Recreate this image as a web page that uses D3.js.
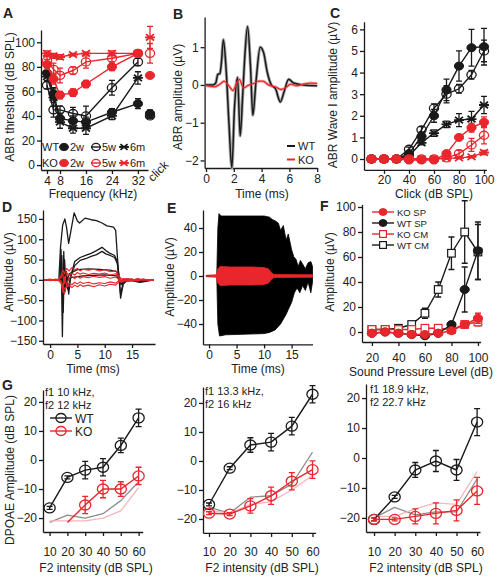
<!DOCTYPE html>
<meta charset="utf-8">
<style>

body {
  margin: 0;
  background-color: #fff;
}

svg text {
  font-family: "Liberation Sans", Arial, sans-serif;
  font-size: 12px;
  fill: #222;
}

.letter {
  font-weight: bold;
  font-size: 14px;
}

</style>
<body>

<div id="chart"></div>

<script src="https://cdn.jsdelivr.net/npm/d3@7"></script>
<script>

// ---- A: ABR thresholds (dB SPL) ----
var freqA = [4, 6, 8, 12, 16, 24, 32];
var wt2wA = [75, 58, 38, 36, 35, 43, 50];
var wt5wA = [65, 45, 45, 42, 40, 63, 84];
var wt6mA = [72, 55, 35, 30, 30, 40, 71];
var ko2wA = [82, 70, 57, 59, 66, 80, 91];
var ko5wA = [85, 78, 73, 77, 84, 87, 91];
var ko6mA = [91, 89, 88, 90, 91, 91, 91];
var wt2wErrA = [3, 5, 4, 4, 4, 3, 4];
var wt5wErrA = [3, 6, 3, 5, 8, 6, 3];
var wt6mErrA = [3, 7, 5, 4, 5, 3, 5];
var ko2wErrA = [4, 4, 3, 3, 3, 3, 2];
var ko5wErrA = [4, 5, 6, 3, 5, 3, 2];
var ko6mErrA = [2, 2, 2, 1, 1, 2, 1];
var clickWtA = [42, 40, 41];
var clickKoA = [73, 91, 104];
var clickWtErrA = [3, 2, 2];
var clickKoErrA = [2, 8, 9];

// ---- B: ABR waveform (ms, uV) ----
var timeWtB = [0, 0.5, 0.7, 0.85, 1.0, 1.1, 1.25, 1.45, 1.65, 1.86, 2.05, 2.27, 2.46, 2.65, 2.8, 2.99, 3.2, 3.37, 3.6, 3.9, 4.15, 4.4, 4.7, 5.0, 5.35, 5.6, 5.95, 6.3, 7, 8];
var ampWtB  = [0, 0, 0.05, 0.28, 0.3, 0.55, 1.2, 0.4, -1.0, -2.2, -0.6, 0.2, -1.35, -0.2, 0.8, 1.55, 0.5, -0.8, 0.1, 1.0, 0.85, 0.35, 0.0, -0.1, -0.45, -0.2, 0.15, 0.05, 0, -0.02];
var timeKoB = [0, 0.6, 1.0, 1.3, 1.6, 1.95, 2.2, 2.4, 2.7, 3.0, 3.5, 3.8, 4.1, 4.5, 5.0, 5.4, 5.7, 6.1, 6.5, 7, 7.5, 8];
var ampKoB  = [-0.02, -0.05, 0.02, 0.1, 0.0, -0.15, 0.05, 0.15, -0.08, -0.02, 0.05, 0.1, 0.1, 0.0, -0.05, -0.12, -0.08, 0.02, -0.02, 0.02, 0.05, 0.04];

// ---- C: ABR wave I amplitude (uV) ----
var levelC = [10, 20, 30, 40, 50, 60, 70, 80, 90, 100];
var wt2wC = [0, 0, 0, 0.25, 1.05, 2.0, 3.2, 4.3, 5.15, 5.2];
var wt5wC = [0, 0, 0, 0.45, 1.35, 2.35, 3.0, 3.25, 3.9, 5.0];
var wt6mC = [0, 0, 0, 0.15, 0.75, 1.2, 1.6, 1.8, 1.85, 2.5];
var ko2wC = [0, 0, 0, -0.05, -0.05, -0.05, 0.25, 1.0, 1.45, 1.7];
var ko5wC = [0, 0, 0, 0, 0, 0, 0.05, 0.25, 0.65, 1.1];
var ko6mC = [0, 0, 0, 0, 0, 0, 0.03, 0.05, 0.1, 0.3];
var wt2wErrC = [0, 0, 0, 0.1, 0.2, 0.3, 0.5, 0.7, 0.85, 0.85];
var wt5wErrC = [0, 0, 0, 0.1, 0.15, 0.2, 0.4, 0.2, 0.2, 0.5];
var wt6mErrC = [0, 0, 0, 0.05, 0.1, 0.15, 0.15, 0.3, 0.35, 0.4];
var ko2wErrC = [0, 0, 0, 0, 0, 0, 0.05, 0.1, 0.2, 0.25];
var ko5wErrC = [0, 0, 0, 0, 0, 0, 0.05, 0.15, 0.3, 0.4];
var ko6mErrC = [0, 0, 0, 0, 0, 0, 0, 0.03, 0.05, 0.1];

// ---- D: summating potential traces (ms, uV) ----
var tracesWtD = [
  {t: [-1, 1.6, 1.9, 2.3, 2.7, 3.0, 3.4, 3.8, 4.4, 5.0, 5.4, 6.4, 7.5, 8.5, 9.5, 10.4, 11.6, 12.0, 12.3, 12.6, 13.0, 13.5, 14.5, 19],
   v: [0, 0, 80, 135, 150, 130, 90, 120, 165, 145, 140, 152, 148, 146, 140, 133, 130, 122, 60, 5, -5, 2, 0, 0]},
  {t: [-1, 1.8, 2.0, 2.25, 2.5, 2.7, 3.0, 3.4, 3.8, 4.5, 5.5, 6.5, 7.5, 8.5, 9.5, 10.2, 11, 11.8, 12.3, 12.6, 12.9, 13.4, 14, 19],
   v: [0, 0, 75, -140, 70, -30, 20, -35, 10, 45, 55, 60, 65, 72, 80, 72, 65, 60, 45, 10, -45, -10, -3, 0]},
  {t: [-1, 1.9, 2.15, 2.4, 2.65, 2.9, 3.3, 3.7, 4.5, 5.5, 6.5, 7.5, 8.5, 9.5, 10.2, 11, 11.8, 12.3, 12.6, 12.9, 13.4, 14, 19],
   v: [0, 0, 60, -80, 50, -10, -25, 5, 35, 48, 52, 58, 62, 70, 64, 60, 55, 40, 5, -35, -5, 0, 0]},
  {t: [-1, 2, 2.3, 2.6, 3, 3.5, 5, 7, 9, 11, 12.2, 12.6, 13, 13.5, 15, 16, 19],
   v: [0, 0, 25, -20, -5, 15, 25, 27, 26, 24, 20, 5, -12, -3, 2, -5, 0]},
  {t: [-1, 2, 2.4, 2.8, 3.5, 6, 10, 12.2, 12.8, 14, 15.5, 16.5, 19],
   v: [0, 0, 10, -10, 5, 10, 12, 10, -5, 2, -3, -6, 0]}
];
var tracesKoD = [
  {t: [-1, 0, 1, 1.5, 2.0, 2.3, 2.6, 3.0, 3.5, 4.0, 4.5, 5.0, 5.5, 6.0, 7, 8, 9, 10, 11, 12, 12.5, 13, 14, 15, 16, 17, 18, 19],
   v: [0, 2, -2, 0, 10, 25, 15, 28, 22, 30, 24, 28, 22, 26, 24, 26, 22, 25, 20, 22, 12, 3, 2, -1, 3, 0, 1, 0]},
  {t: [-1, 0, 1, 1.5, 2.0, 2.3, 2.6, 3.0, 3.5, 4.0, 4.5, 5.0, 5.5, 6.0, 7, 8, 9, 10, 11, 12, 12.5, 13, 14, 15, 16, 17, 18, 19],
   v: [1, -2, 2, 0, 5, 15, -10, 18, 10, 16, 12, 18, 14, 17, 13, 16, 14, 17, 12, 15, 8, -4, 3, 2, -3, 2, -1, 0]},
  {t: [-1, 0, 1, 1.5, 2.0, 2.3, 2.6, 3.0, 3.5, 4.0, 4.5, 5.0, 5.5, 6.0, 7, 8, 9, 10, 11, 12, 12.5, 13, 14, 15, 16, 17, 18, 19],
   v: [-1, 1, -1, 2, -5, -30, 8, -12, 5, 8, 3, 9, 4, 8, 5, 9, 6, 8, 4, 7, 2, -6, 1, -2, 2, -1, 1, 0]},
  {t: [-1, 0, 1, 1.5, 2.0, 2.3, 2.6, 3.0, 3.5, 4.0, 4.5, 5.0, 5.5, 6.0, 7, 8, 9, 10, 11, 12, 12.5, 13, 14, 15, 16, 17, 18, 19],
   v: [0, -1, 1, -2, -8, -20, -35, -15, -8, -12, -6, -10, -5, -9, -6, -10, -7, -9, -5, -8, -3, 2, -2, 1, -1, 2, 0, 0]},
  {t: [-1, 0, 1, 1.5, 2.0, 2.3, 2.6, 3.0, 3.5, 4.0, 4.5, 5.0, 5.5, 6.0, 7, 8, 9, 10, 11, 12, 12.5, 13, 14, 15, 16, 17, 18, 19],
   v: [1, 0, -1, 1, -3, -12, -22, -18, -14, -19, -13, -17, -12, -16, -13, -17, -12, -15, -11, -13, -6, -2, -3, 0, -2, 1, -1, 0]}
];

// ---- E: cochlear microphonic envelopes (ms, uV) ----
var envTopWtE = {t: [-0.5, 1.4, 1.6, 1.8, 2.2, 5, 10, 11, 11.5, 12, 12.6, 13, 13.5, 14, 14.4, 15, 15.4, 15.8, 16.2, 16.6, 17, 17.5, 18, 18.5, 18.8],
                 v: [0.5, 0.5, 40, 52, 50, 50, 50, 49, 47, 46, 44, 38, 42, 30, 35, 22, 16, 14, 8, 13, 10, 6, 11, 12, 8]};
var envBotWtE = {t: [-0.5, 1.4, 1.6, 1.9, 3, 10, 11, 12, 13, 14, 15, 15.5, 16, 16.5, 17, 17.5, 18, 18.5, 18.8],
                 v: [-0.5, -0.5, -40, -50, -49, -48, -47, -45, -40, -32, -22, -14, -10, -14, -8, -12, -5, -14, -5]};
var envTopKoE = {t: [-0.5, 1.3, 1.6, 2.0, 4, 6, 8, 10, 10.8, 11.3, 11.8, 18.8],
                 v: [0.5, 1, 6, 8, 7.5, 7.5, 7.5, 7, 6, 3, 1.2, 1]};
var envBotKoE = {t: [-0.5, 1.3, 1.6, 2.0, 4, 6, 8, 10, 10.8, 11.3, 11.8, 18.8],
                 v: [-0.5, -1, -6, -8, -7.5, -7.5, -7.5, -7, -6, -3, -1.2, -1]};

// ---- F: SP / CM amplitude vs level ----
var levelF = [20, 30, 40, 50, 60, 70, 80, 90, 100];
var koSpF = [-1, 0, -1, -2, -2, -1, 1, 6, 11];
var wtSpF = [-1, 0, -1, -2, -3, -1, 6, 34, 65];
var koCmF = [2, 2, 2, 2, 3, 3, 2, 6, 8];
var wtCmF = [2, 2, 3, 6, 15, 34, 63, 80, 64];
var koSpErrF = [1, 1, 1, 1, 1, 1, 1, 2, 4];
var wtSpErrF = [1, 1, 1, 1, 1, 1, 2, 18, 23];
var koCmErrF = [1, 1, 1, 1, 1, 1, 1, 2, 3];
var wtCmErrF = [1, 1, 1, 1, 4, 6, 13, 25, 22];

// ---- G: DPOAE amplitude (dB SPL) ----
var levelG = [10, 20, 30, 40, 50, 60];
var wtG1 = [-16.5, -6, -3.5, -2.5, 5, 14.5];
var koG1 = [null, -21.5, -15.5, -10, -10, -5.5];
var wtErrG1 = [0.5, 0.5, 3, 3, 2.5, 3];
var koErrG1 = [0, 0, 3, 3, 2.5, 3];
var wtNoiseG1 = [-21.5, -19, -20, -18.5, -14, -7.5];
var koNoiseG1 = [-21, -21, -21, -20, -17.5, -9.5];
var wtG2 = [-15, -2.5, 5.5, 6.5, 12, 23];
var koG2 = [-18, -18.3, -15.5, -12, -7, -3];
var wtErrG2 = [0.5, 0.5, 2.5, 3, 3, 3];
var koErrG2 = [0.5, 0.5, 2.5, 3, 3, 3];
var wtNoiseG2 = [-16, -18, -12.5, -12, -8, 3];
var koNoiseG2 = [-17, -18, -15, -14, -10, -5];
var wtG3 = [-20.5, -13, -4, -1, -4, 12];
var koG3 = [-20.5, -20.5, -19.5, -18.5, -17.5, -11];
var wtErrG3 = [0.5, 0.5, 2.5, 3.5, 3.5, 4.5];
var koErrG3 = [0.5, 0.5, 2.5, 3.5, 3.5, 4.5];
var wtNoiseG3 = [-20, -16.5, -19, -18, -18, -7];
var koNoiseG3 = [-19.5, -19.5, -17, -15, -15.5, -4.5];

var RED = '#e8262b', BLK = '#1a1a1a';

var svg = d3.select('#chart').append('svg')
  .attr('width', 496)
  .attr('height', 583);

//-------------------------------------------------------------------------------------

function drawAxes(x, y, xticks, yticks, xpad) {
  var xa = svg.append('g')
    .attr('transform', 'translate(0,' + y.range()[0] + ')')
    .call(d3.axisBottom(x).tickValues(xticks).tickSize(4).tickSizeOuter(0).tickPadding(xpad || 2)
      .tickFormat(d3.format('d')));
  var ya = svg.append('g')
    .attr('transform', 'translate(' + x.range()[0] + ',0)')
    .call(d3.axisLeft(y).tickValues(yticks).tickSize(4).tickSizeOuter(0).tickPadding(2)
      .tickFormat(d3.format('d')));
  [xa, ya].forEach(function(a){
    a.selectAll('path, line').attr('stroke', BLK).attr('stroke-width', 1.3);
    a.selectAll('text').attr('fill', '#222').style('font-size', '12px');
  });
}

function label(txt, x, y, rot, cls) {
  var t = svg.append('text').text(txt).attr('text-anchor', 'middle');
  if (rot) t.attr('transform', 'translate(' + x + ',' + y + ') rotate(' + rot + ')');
  else t.attr('x', x).attr('y', y);
  if (cls) t.attr('class', cls).attr('text-anchor', 'start');
  return t;
}

function marker(g, kind, cx, cy, col, r) {
  r = r || 4;
  if (kind == 'dot') {
    g.append('ellipse').attr('cx', cx).attr('cy', cy).attr('rx', r + 0.6).attr('ry', r)
      .attr('fill', col).attr('stroke', col);
  } else if (kind == 'ring') {
    g.append('ellipse').attr('cx', cx).attr('cy', cy).attr('rx', r + 0.6).attr('ry', r)
      .attr('fill', 'none').attr('stroke', col).attr('stroke-width', 1.3);
  } else if (kind == 'star') {
    var p = d3.path();
    p.moveTo(cx - r - 1, cy); p.lineTo(cx + r + 1, cy);
    p.moveTo(cx - r, cy - r * 0.8); p.lineTo(cx + r, cy + r * 0.8);
    p.moveTo(cx - r, cy + r * 0.8); p.lineTo(cx + r, cy - r * 0.8);
    g.append('path').attr('d', p.toString()).attr('stroke', col).attr('stroke-width', 1.8);
  } else if (kind == 'square') {
    g.append('rect').attr('x', cx - r).attr('y', cy - r).attr('width', 2 * r).attr('height', 2 * r)
      .attr('fill', '#fff').attr('stroke', col).attr('stroke-width', 1.2);
  }
}

function series(x, y, xs, ys, errs, col, kind, opts) {
  opts = opts || {};
  var g = svg.append('g');
  var pts = xs.map(function(d, i){ return [d, ys[i], errs ? errs[i] : 0]; });
  g.append('path')
    .attr('d', d3.line().defined(function(d){ return d[1] != null; })
      .x(function(d){ return x(d[0]); }).y(function(d){ return y(d[1]); })(pts))
    .attr('fill', 'none').attr('stroke', col).attr('stroke-width', opts.lw || 1.4);
  pts.forEach(function(d, i){
    if (d[1] == null) return;
    if (opts.skip && opts.skip.indexOf(i) >= 0) return;
    if (d[2] > 0) {
      var y0 = y(d[1] - d[2]), y1 = y(d[1] + d[2]), cx = x(d[0]);
      g.append('path')
        .attr('d', 'M' + cx + ',' + y0 + 'V' + y1 + 'M' + (cx - 3) + ',' + y0 + 'h6M' + (cx - 3) + ',' + y1 + 'h6')
        .attr('stroke', col).attr('stroke-width', 1.3);
    }
    marker(g, kind, x(d[0]), y(d[1]), col, opts.r);
  });
}

function trace(x, y, ts, vs, col, lw, curve) {
  var pts = ts.map(function(d, i){ return [d, vs[i]]; });
  svg.append('path')
    .attr('d', d3.line().curve(curve || d3.curveMonotoneX)
      .x(function(d){ return x(d[0]); }).y(function(d){ return y(d[1]); })(pts))
    .attr('fill', 'none').attr('stroke', col).attr('stroke-width', lw || 1.3)
    .attr('stroke-linejoin', 'round');
}

//-------------------------------------------------------------------------------------
// Panel A

function drawA() {
  var x = d3.scaleLinear().domain([2.15, 35.1]).range([41, 148]);
  var y = d3.scaleLinear().domain([-4, 110]).range([170, 30]);
  drawAxes(x, y, [4, 8, 16, 24, 32], [0, 20, 40, 60, 80, 100]);
  label('A', 3, 18, null, 'letter');
  label('Frequency (kHz)', 93, 198);
  label('ABR threshold (dB SPL)', 14, 97, -90);
  svg.append('text').text('click').attr('text-anchor', 'middle')
    .attr('transform', 'translate(161,174) rotate(-45)');

  series(x, y, freqA, wt5wA, wt5wErrA, BLK, 'ring');
  series(x, y, freqA, wt6mA, wt6mErrA, BLK, 'star');
  series(x, y, freqA, wt2wA, wt2wErrA, BLK, 'dot');
  series(x, y, freqA, ko6mA, ko6mErrA, RED, 'star');
  series(x, y, freqA, ko5wA, ko5wErrA, RED, 'ring');
  series(x, y, freqA, ko2wA, ko2wErrA, RED, 'dot');

  var kinds = ['dot', 'ring', 'star'];
  var g = svg.append('g');
  function clickMark(v, e, kind, col) {
    g.append('path').attr('d', 'M150,' + y(v - e) + 'V' + y(v + e) + 'M147,' + y(v - e) + 'h6M147,' + y(v + e) + 'h6')
      .attr('stroke', col).attr('stroke-width', 1.3);
    marker(g, kind, 150, y(v), col);
  }
  clickWtA.forEach(function(v, i){ clickMark(v, clickWtErrA[i], kinds[i], BLK); });
  clickKoA.forEach(function(v, i){ clickMark(v, clickKoErrA[i], kinds[i], RED); });

  // legend
  var names = ['2w', '5w', '6m'], xs = [64, 96, 124];
  [['WT', BLK, 147], ['KO', RED, 163]].forEach(function(row){
    svg.append('text').text(row[0]).attr('x', 42).attr('y', row[2] + 4).style('font-size', '11px');
    names.forEach(function(n, i){
      svg.append('line').attr('x1', xs[i] - 5).attr('x2', xs[i] + 5).attr('y1', row[2]).attr('y2', row[2])
        .attr('stroke', row[1]).attr('stroke-width', 1.4);
      marker(svg, kinds[i], xs[i], row[2], row[1], 3.6);
      svg.append('text').text(n).attr('x', xs[i] + 6).attr('y', row[2] + 4).style('font-size', '11px');
    });
  });
}

//-------------------------------------------------------------------------------------
// Panel B

function drawB() {
  var x = d3.scaleLinear().domain([-0.1, 8]).range([204.6, 317.2]);
  var y = d3.scaleLinear().domain([-2.2, 1.8]).range([168, 17]);
  drawAxes(x, y, [0, 2, 4, 6, 8], [-2, -1, 0, 1]);
  label('B', 173, 19, null, 'letter');
  label('Time (ms)', 262, 198);
  label('ABR amplitude (\u00b5V)', 182, 97, -90);

  trace(x, y, timeWtB, ampWtB, '#a8a8a8', 3.2);
  trace(x, y, timeKoB, ampKoB, '#f6b0b2', 3);
  trace(x, y, timeWtB, ampWtB, BLK, 1.5);
  trace(x, y, timeKoB, ampKoB, RED, 1.3);

  [['WT', BLK, 146], ['KO', RED, 159.5]].forEach(function(row){
    svg.append('line').attr('x1', 287).attr('x2', 295).attr('y1', row[2]).attr('y2', row[2])
      .attr('stroke', row[1]).attr('stroke-width', 2);
    svg.append('text').text(row[0]).attr('x', 298).attr('y', row[2] + 4).style('font-size', '11px');
  });
}

//-------------------------------------------------------------------------------------
// Panel C

function drawC() {
  var x = d3.scaleLinear().domain([4, 102]).range([364, 486.5]);
  var y = d3.scaleLinear().domain([-0.5, 6.35]).range([169.8, 21.8]);
  drawAxes(x, y, [20, 40, 60, 80, 100], [0, 1, 2, 3, 4, 5, 6]);
  label('C', 330, 18, null, 'letter');
  label('Click (dB SPL)', 434, 198);
  label('ABR Wave I amplitude (\u00b5V)', 337, 95, -90);

  series(x, y, levelC, wt6mC, wt6mErrC, BLK, 'star');
  series(x, y, levelC, wt5wC, wt5wErrC, BLK, 'ring');
  series(x, y, levelC, wt2wC, wt2wErrC, BLK, 'dot');
  series(x, y, levelC, ko6mC, ko6mErrC, RED, 'star');
  series(x, y, levelC, ko5wC, ko5wErrC, RED, 'ring');
  series(x, y, levelC, ko2wC, ko2wErrC, RED, 'dot');
}

//-------------------------------------------------------------------------------------
// Panel D

function drawD() {
  var x = d3.scaleLinear().domain([-1.3, 19.2]).range([43, 155]);
  var y = d3.scaleLinear().domain([-158, 172]).range([344, 210]);
  drawAxes(x, y, [0, 5, 10, 15], [-150, -100, -50, 0, 50, 100, 150]);
  label('D', 2, 212, null, 'letter');
  label('Time (ms)', 93, 373);
  label('Amplitude (\u00b5V)', 13, 272, -90);

  tracesWtD.forEach(function(tr){ trace(x, y, tr.t, tr.v, BLK, 1.3, d3.curveLinear); });
  tracesKoD.forEach(function(tr){ trace(x, y, tr.t, tr.v, RED, 1.1, d3.curveLinear); });
}

//-------------------------------------------------------------------------------------
// Panel E

function drawE() {
  var x = d3.scaleLinear().domain([-1.1, 18.8]).range([203, 312.5]);
  var y = d3.scaleLinear().domain([-57, 55]).range([344.4, 210]);
  drawAxes(x, y, [0, 5, 10, 15], [-40, -20, 0, 20, 40]);
  label('E', 167, 213, null, 'letter');
  label('Time (ms)', 258, 373);
  label('Amplitude (\u00b5V)', 174, 277, -90);

  function env(top, bot, col) {
    var yt = d3.scaleLinear().domain(top.t).range(top.v);
    var yb = d3.scaleLinear().domain(bot.t).range(bot.v);
    var ts = top.t.concat(bot.t).sort(d3.ascending);
    svg.append('path')
      .attr('d', d3.area()
        .x(function(t){ return x(t); })
        .y0(function(t){ return y(yb(t)); })
        .y1(function(t){ return y(yt(t)); })(ts))
      .attr('fill', col).attr('stroke', col).attr('stroke-width', 0.8);
  }
  env(envTopWtE, envBotWtE, '#000');
  env(envTopKoE, envBotKoE, RED);
}

//-------------------------------------------------------------------------------------
// Panel F

function drawF() {
  var x = d3.scaleLinear().domain([12.5, 102]).range([362, 480.6]);
  var y = d3.scaleLinear().domain([-8, 102]).range([342, 204.5]);
  drawAxes(x, y, [20, 40, 60, 80, 100], [0, 20, 40, 60, 80, 100], 7);
  label('F', 320, 211, null, 'letter');
  label('Sound Pressure Level (dB)', 421, 376);
  label('Amplitude (\u00b5V)', 334, 272, -90);

  series(x, y, levelF, wtCmF, wtCmErrF, BLK, 'square', {r: 3.8});
  series(x, y, levelF, koCmF, koCmErrF, RED, 'square', {r: 3.8});
  series(x, y, levelF, wtSpF, wtSpErrF, BLK, 'dot');
  series(x, y, levelF, koSpF, koSpErrF, RED, 'dot');

  var rows = [['KO SP', RED, 'dot', 212], ['WT SP', BLK, 'dot', 223], ['KO CM', RED, 'square', 234], ['WT CM', BLK, 'square', 245]];
  rows.forEach(function(r){
    svg.append('line').attr('x1', 372).attr('x2', 394).attr('y1', r[3]).attr('y2', r[3])
      .attr('stroke', r[1]).attr('stroke-width', 1.4);
    marker(svg, r[2], 383, r[3], r[1], 3.4);
    svg.append('text').text(r[0]).attr('x', 397).attr('y', r[3] + 3.6).style('font-size', '9.5px');
  });
}

//-------------------------------------------------------------------------------------
// Panel G

function drawG(p) {
  var x = d3.scaleLinear().domain(p.xd).range(p.xr);
  var y = d3.scaleLinear().domain(p.yd).range(p.yr);
  drawAxes(x, y, levelG, [-20, -10, 0, 10, 20], 11);
  label('F2 intensity (dB SPL)', p.tx, 572);
  svg.append('text').text(p.f1).attr('x', p.fx).attr('y', p.fy).style('font-size', '11px');
  svg.append('text').text(p.f2).attr('x', p.fx).attr('y', p.fy + 13).style('font-size', '11px');

  trace(x, y, levelG, p.wtN, '#8c8c8c', 1.3, d3.curveLinear);
  trace(x, y, levelG, p.koN, '#f6b6b8', 1.3, d3.curveLinear);
  series(x, y, levelG, p.wt, p.wtE, BLK, 'ring', {r: 5});
  series(x, y, levelG, p.ko, p.koE, RED, 'ring', {r: 5, skip: p.skip});
}

drawA();
drawB();
drawC();
drawD();
drawE();
drawF();

label('G', 2, 390, null, 'letter');
label('DPOAE Amplitude (dB SPL)', 14, 470, -90);
drawG({xd: [6.3, 62.3], xr: [43, 142.7], yd: [-24.8, 24.1], yr: [532, 390], tx: 96,
  f1: 'f1 10 kHz,', f2: 'f2 12 kHz', fx: 45, fy: 396,
  wt: wtG1, wtE: wtErrG1, ko: koG1, koE: koErrG1, wtN: wtNoiseG1, koN: koNoiseG1, skip: [1]});
drawG({xd: [7.1, 61.5], xr: [203, 315.6], yd: [-24.8, 25.5], yr: [532.9, 387], tx: 262,
  f1: 'f1 13.3 kHz,', f2: 'f2 16 kHz', fx: 205, fy: 395,
  wt: wtG2, wtE: wtErrG2, ko: koG2, koE: koErrG2, wtN: wtNoiseG2, koN: koNoiseG2});
drawG({xd: [6.1, 61.4], xr: [366, 480], yd: [-24.7, 24.7], yr: [532, 384], tx: 426,
  f1: 'f1 18.9 kHz,', f2: 'f2 22.7 kHz', fx: 370, fy: 393,
  wt: wtG3, wtE: wtErrG3, ko: koG3, koE: koErrG3, wtN: wtNoiseG3, koN: koNoiseG3});

// G1 legend
[['WT', BLK, 418], ['KO', RED, 431]].forEach(function(r){
  svg.append('line').attr('x1', 50).attr('x2', 72).attr('y1', r[2]).attr('y2', r[2])
    .attr('stroke', r[1]).attr('stroke-width', 1.4);
  marker(svg, 'ring', 61, r[2], r[1], 4.5);
  svg.append('text').text(r[0]).attr('x', 75).attr('y', r[2] + 4.5);
});

</script>
